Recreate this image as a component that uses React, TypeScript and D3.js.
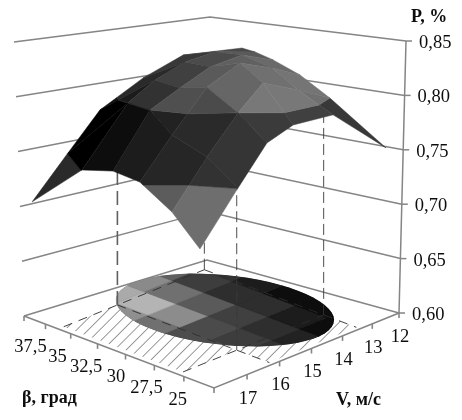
import React from "react";
import * as d3 from "d3";

// ---------- axis data ----------
const pLevels = [0.6, 0.65, 0.7, 0.75, 0.8, 0.85];
const pTickLabels = ["0,60", "0,65", "0,70", "0,75", "0,80", "0,85"];
const betaTickLabels = ["37,5", "35", "32,5", "30", "27,5", "25"];
const vTickLabels = ["17", "16", "15", "14", "13", "12"];

// ---------- surface ----------
// rows: beta index 25..37.5; columns run from V≈17 to V≈12
const surfaceBeta = [25, 27.5, 30, 32.5, 35, 37.5];
const surfaceV = [
  [17.38, 16.35, 15.57, 14.86, 13.78, 12.35],
  [17.11, 16.16, 15.32, 14.65, 13.7, 12.84],
  [16.95, 16.08, 15.14, 14.24, 13.38, 12.62],
  [16.65, 15.65, 14.84, 14.03, 13.16, 12.32],
  [16.46, 15.22, 14.49, 13.68, 12.86, 11.78],
  [16.78, 15.81, 14.95, 13.78, 12.7, 11.11],
];
const surfaceP = [
  [0.7325, 0.7743, 0.8047, 0.8115, 0.8059, 0.756],
  [0.7495, 0.7868, 0.8157, 0.8338, 0.8144, 0.7952],
  [0.7615, 0.7927, 0.8236, 0.8333, 0.8169, 0.8001],
  [0.7543, 0.7964, 0.8055, 0.8135, 0.8126, 0.7966],
  [0.7395, 0.7837, 0.7948, 0.8001, 0.7982, 0.7833],
  [0.7015, 0.733, 0.7604, 0.7738, 0.7799, 0.7645],
];
// colour level of each vertex: below 0 the pale band, 0..1 the dark band, above 1 the light band
const bandLevel = [
  [-0.88, 0.01, 0.59, 0.82, 0.8, 0.42],
  [-0.38, 0.4, 1.0, 1.44, 1.3, 1.0],
  [0.04, 0.68, 1.4, 1.7, 1.6, 1.5],
  [0.2, 1.0, 1.35, 1.6, 1.7, 1.7],
  [0.01, 1.0, 1.4, 1.6, 1.7, 1.7],
  [-0.5, 0.01, 0.8, 1.3, 1.5, 1.6],
];
const paleShade = [
  [0x6e, 0x6e, 0x6e, 0x6e, 0x6e],
  [0x5c, 0x5c, 0x5c, 0x5c, 0x5c],
  [0x50, 0x50, 0x50, 0x50, 0x50],
  [0x40, 0x40, 0x40, 0x40, 0x40],
  [0x2b, 0x2b, 0x2b, 0x2b, 0x2b],
];
const darkShade = [
  [0x30, 0x34, 0x3a, 0x40, 0x38],
  [0x26, 0x2c, 0x30, 0x38, 0x38],
  [0x1a, 0x20, 0x28, 0x30, 0x30],
  [0x0e, 0x0c, 0x14, 0x20, 0x20],
  [0x03, 0x05, 0x10, 0x20, 0x20],
];
const lightShade = [
  [0x78, 0x78, 0x78, 0x78, 0x70],
  [0x50, 0x4c, 0x66, 0x70, 0x74],
  [0x48, 0x4f, 0x5a, 0x60, 0x6a],
  [0x30, 0x33, 0x3f, 0x4c, 0x5a],
  [0x20, 0x1e, 0x2c, 0x38, 0x48],
];

// ---------- floor projection of the surface ----------
const shadowBetaEdges = [25, 27.06, 29.16, 31.26, 33.36, 35.46, 37.5];
const shadowVEdges = [16.85, 16.1, 15.35, 14.6, 13.85, 13.1, 12.35];
const shadowShade = [
  // low beta first; columns from high V to low V
  [0x30, 0x30, 0x30, 0x22, 0x0c, 0x05],
  [0x50, 0x48, 0x3c, 0x2e, 0x1a, 0x0a],
  [0x55, 0x4e, 0x4c, 0x3f, 0x2d, 0x0e],
  [0x70, 0x6f, 0x8c, 0x5a, 0x2e, 0x1f],
  [0x8f, 0x8f, 0xb4, 0x70, 0x3e, 0x30],
  [0xaa, 0xaa, 0xaa, 0x8a, 0x60, 0x50],
];
const shadowCentre = { beta: 31.17, v: 14.17 };
const shadowAxisA = { beta: -4.55, v: -1.08 };
const shadowAxisB = { beta: -2.94, v: 1.205 };

// optimum zone marked with dashes
const zoneBeta = [27.4, 35.25];
const zoneV = [15.4, 13.05];
const zoneTopP = [
  [0.76, 0.795],
  [0.73, 0.66],
];
const hatchBetaFar = 35.25;
const hatchBetaNear = 27.4;
const hatchBetaEnd = 25.25;
const hatchVLow = 16.85;

// ---------- layout ----------
const floorFront = [214, 388];
const floorLeft = [24, 316];
const floorRight = [399, 313];
const floorBack = [207, 260];
const topLeft = [14, 42];
const topBack = [210, 17];
const topRight = [406, 41];

const aScale = d3.scaleLinear().domain([25, 37.5]).range([0, 1]);
const bScale = d3.scaleLinear().domain([17, 12]).range([0, 1]);
const heightScale = d3.scaleLinear().domain([0.6, 0.85]).range([0, 273]);

function project(beta: number, v: number, p: number): [number, number] {
  const a = aScale(beta);
  const b = bScale(v);
  return [
    floorFront[0] + a * (floorLeft[0] - floorFront[0]) + b * (185),
    floorFront[1] + a * (floorLeft[1] - floorFront[1]) + b * (-75) - heightScale(p),
  ];
}

function levelPoint(bottom: number[], top: number[], p: number): [number, number] {
  const t = (p - 0.6) / 0.25;
  return [bottom[0] + (top[0] - bottom[0]) * t, bottom[1] + (top[1] - bottom[1]) * t];
}

const lerpPt = (s: number[], e: number[], t: number): [number, number] => [
  s[0] + (e[0] - s[0]) * t,
  s[1] + (e[1] - s[1]) * t,
];

const betaTickT = d3.scalePow().exponent(1.12).domain([0, 7]).range([0, 1]);
const vTickT = d3.scalePow().exponent(1.08).domain([0, 6]).range([0, 1]);

const grey = (g: number) => `rgb(${g},${g},${g})`;
const line = d3.line();
const closed = (pts: [number, number][]) => line(pts)! + "Z";

type V = { x: number; y: number; s: number };

function clipAbove(poly: V[], lim: number, keepAbove: boolean): V[] {
  const inside = (q: V) => (keepAbove ? q.s >= lim : q.s <= lim);
  const out: V[] = [];
  poly.forEach((cur, k) => {
    const nxt = poly[(k + 1) % poly.length];
    if (inside(cur)) out.push(cur);
    if (inside(cur) !== inside(nxt)) {
      const t = (lim - cur.s) / (nxt.s - cur.s);
      out.push({
        x: cur.x + (nxt.x - cur.x) * t,
        y: cur.y + (nxt.y - cur.y) * t,
        s: lim,
      });
    }
  });
  return out;
}

function surfaceFacets() {
  const vertex = (i: number, j: number): V => {
    const [x, y] = project(surfaceBeta[i], surfaceV[i][j], surfaceP[i][j]);
    return { x, y, s: bandLevel[i][j] };
  };
  const facets: { d: string; fill: string }[] = [];
  for (let i = 4; i >= 0; i--) {
    for (let j = 4; j >= 0; j--) {
      const quad = [vertex(i, j), vertex(i + 1, j), vertex(i + 1, j + 1), vertex(i, j + 1)];
      const pale = clipAbove(quad, 0, false);
      const dark = clipAbove(clipAbove(quad, 0, true), 1, false);
      const light = clipAbove(quad, 1, true);
      const add = (poly: V[], g: number) => {
        if (poly.length >= 3)
          facets.push({ d: closed(poly.map((q) => [q.x, q.y] as [number, number])), fill: grey(g) });
      };
      add(pale, paleShade[i][j]);
      add(dark, darkShade[i][j]);
      add(light, lightShade[i][j]);
    }
  }
  return facets;
}

function floorRect(b0: number, b1: number, v0: number, v1: number) {
  return closed([
    project(b0, v0, 0.6),
    project(b1, v0, 0.6),
    project(b1, v1, 0.6),
    project(b0, v1, 0.6),
  ]);
}

const frameLine = "#858585";
const serif = "'Liberation Serif', 'Times New Roman', serif";

export default function App() {
  const facets = surfaceFacets();

  const shadowOutline = closed(
    d3.range(0, 360, 6).map((deg) => {
      const r = (deg * Math.PI) / 180;
      return project(
        shadowCentre.beta + shadowAxisA.beta * Math.cos(r) + shadowAxisB.beta * Math.sin(r),
        shadowCentre.v + shadowAxisA.v * Math.cos(r) + shadowAxisB.v * Math.sin(r),
        0.6
      );
    })
  );

  const hatchD =
    floorRect(hatchBetaNear, hatchBetaFar, hatchVLow, zoneV[0]) +
    floorRect(hatchBetaEnd, hatchBetaNear, zoneV[0], zoneV[1]);

  return (
    <svg
      width={462}
      height={420}
      viewBox="0 0 462 420"
      style={{ position: "absolute", left: 0, top: 0, background: "#fff" }}
    >
      <defs>
        <pattern
          id="hatch"
          width={8.2}
          height={8.2}
          patternUnits="userSpaceOnUse"
          patternTransform="rotate(45)"
        >
          <line x1={0} y1={0} x2={0} y2={8.2} stroke="#333" strokeWidth={1} />
        </pattern>
        <clipPath id="shadowClip">
          <path d={shadowOutline} />
        </clipPath>
        <filter id="soft" x="0" y="0" width="100%" height="100%">
          <feGaussianBlur stdDeviation={0.5} />
        </filter>
      </defs>

      <g filter="url(#soft)">
        {/* walls */}
        <g stroke={frameLine} strokeWidth={1.5} fill="none">
          {pLevels.map((p) => (
            <path
              key={p}
              d={
                line([
                  levelPoint(floorLeft, topLeft, p),
                  levelPoint(floorBack, topBack, p),
                  levelPoint(floorRight, topRight, p),
                ])!
              }
            />
          ))}
          <path d={line([levelPoint(floorRight, topRight, 0.6), levelPoint(floorRight, topRight, 0.85)])!} />
          {pLevels.map((p) => {
            const q = levelPoint(floorRight, topRight, p);
            return <path key={p} d={line([q, [q[0] + 6, q[1]]])!} />;
          })}
        </g>

        {/* floor edges and ticks */}
        <g stroke={frameLine} strokeWidth={1.6} fill="none">
          <path d={line([floorLeft as any, floorFront as any, floorRight as any])!} fill="none" />
          {d3.range(0, 8).map((k) => {
            const q = lerpPt(floorLeft, floorFront, betaTickT(k));
            return <path key={k} d={line([q, [q[0], q[1] + 5]])!} />;
          })}
          {d3.range(0, 6).map((k) => {
            const q = lerpPt(floorRight, floorFront, vTickT(k));
            return <path key={k} d={line([q, [q[0], q[1] + 5]])!} />;
          })}
        </g>

        {/* hatching */}
        <path d={hatchD} fill="url(#hatch)" />

        {/* floor projection */}
        <g clipPath="url(#shadowClip)">
          <path d={shadowOutline} fill="#555" />
          {shadowShade.map((row, k) =>
            row.map((g, l) => (
              <path
                key={`${k}-${l}`}
                d={floorRect(shadowBetaEdges[k], shadowBetaEdges[k + 1], shadowVEdges[l], shadowVEdges[l + 1])}
                fill={grey(g)}
                stroke={grey(g)}
                strokeWidth={0.5}
              />
            ))
          )}
        </g>

        {/* dashed guide lines on the floor */}
        <g stroke="#2e2e2e" strokeWidth={0.9} strokeDasharray="9 7" fill="none">
          {zoneBeta.map((b) => (
            <path key={b} d={line([project(b, hatchVLow, 0.6), project(b, zoneV[1], 0.6)])!} />
          ))}
          {zoneV.map((v) => (
            <path key={v} d={line([project(hatchBetaFar, v, 0.6), project(hatchBetaEnd, v, 0.6)])!} />
          ))}
        </g>

        {/* dashed verticals */}
        {zoneBeta.map((b, i) =>
          zoneV.map((v, j) => (
            <path
              key={`${b}-${v}`}
              d={line([project(b, v, 0.6), project(b, v, zoneTopP[i][j])])!}
              stroke={i === 1 && j === 0 ? "#5e5e5e" : "#3a3a3a"}
              strokeWidth={i === 1 && j === 0 ? 1.6 : 0.9}
              strokeDasharray={i === 1 && j === 0 ? "14 6" : "11 5"}
              fill="none"
            />
          ))
        )}

        {/* surface */}
        <g>
          {facets.map((f, i) => (
            <path key={i} d={f.d} fill={f.fill} stroke={f.fill} strokeWidth={0.5} strokeLinejoin="round" />
          ))}
        </g>

        {/* tick labels */}
        <g fontFamily={serif} fontSize={18.5} fill="#111">
          {pLevels.map((p, i) => {
            const q = levelPoint(floorRight, topRight, p);
            return (
              <text key={p} x={q[0] + 13} y={q[1] + 1} dominantBaseline="central">
                {pTickLabels[i]}
              </text>
            );
          })}
          {betaTickLabels.map((t, i) => {
            const q = lerpPt(floorLeft, floorFront, betaTickT(i + 1));
            return (
              <text
                key={t}
                x={q[0] - 15 + 1.8 * i}
                y={q[1] + 22}
                textAnchor="middle"
                dominantBaseline="central"
              >
                {t}
              </text>
            );
          })}
          {vTickLabels.map((t, i) => {
            const q = lerpPt(floorRight, floorFront, vTickT(5 - i));
            return (
              <text key={t} x={q[0] + 1} y={q[1] + 23} textAnchor="middle" dominantBaseline="central">
                {t}
              </text>
            );
          })}
        </g>

        {/* axis titles */}
        <g fontFamily={serif} fontSize={18} fontWeight="bold" fill="#111" dominantBaseline="central">
          <text x={411} y={16}>P, %</text>
          <text x={22} y={397}>β, град</text>
          <text x={336} y={399}>V, м/с</text>
        </g>
      </g>
    </svg>
  );
}
